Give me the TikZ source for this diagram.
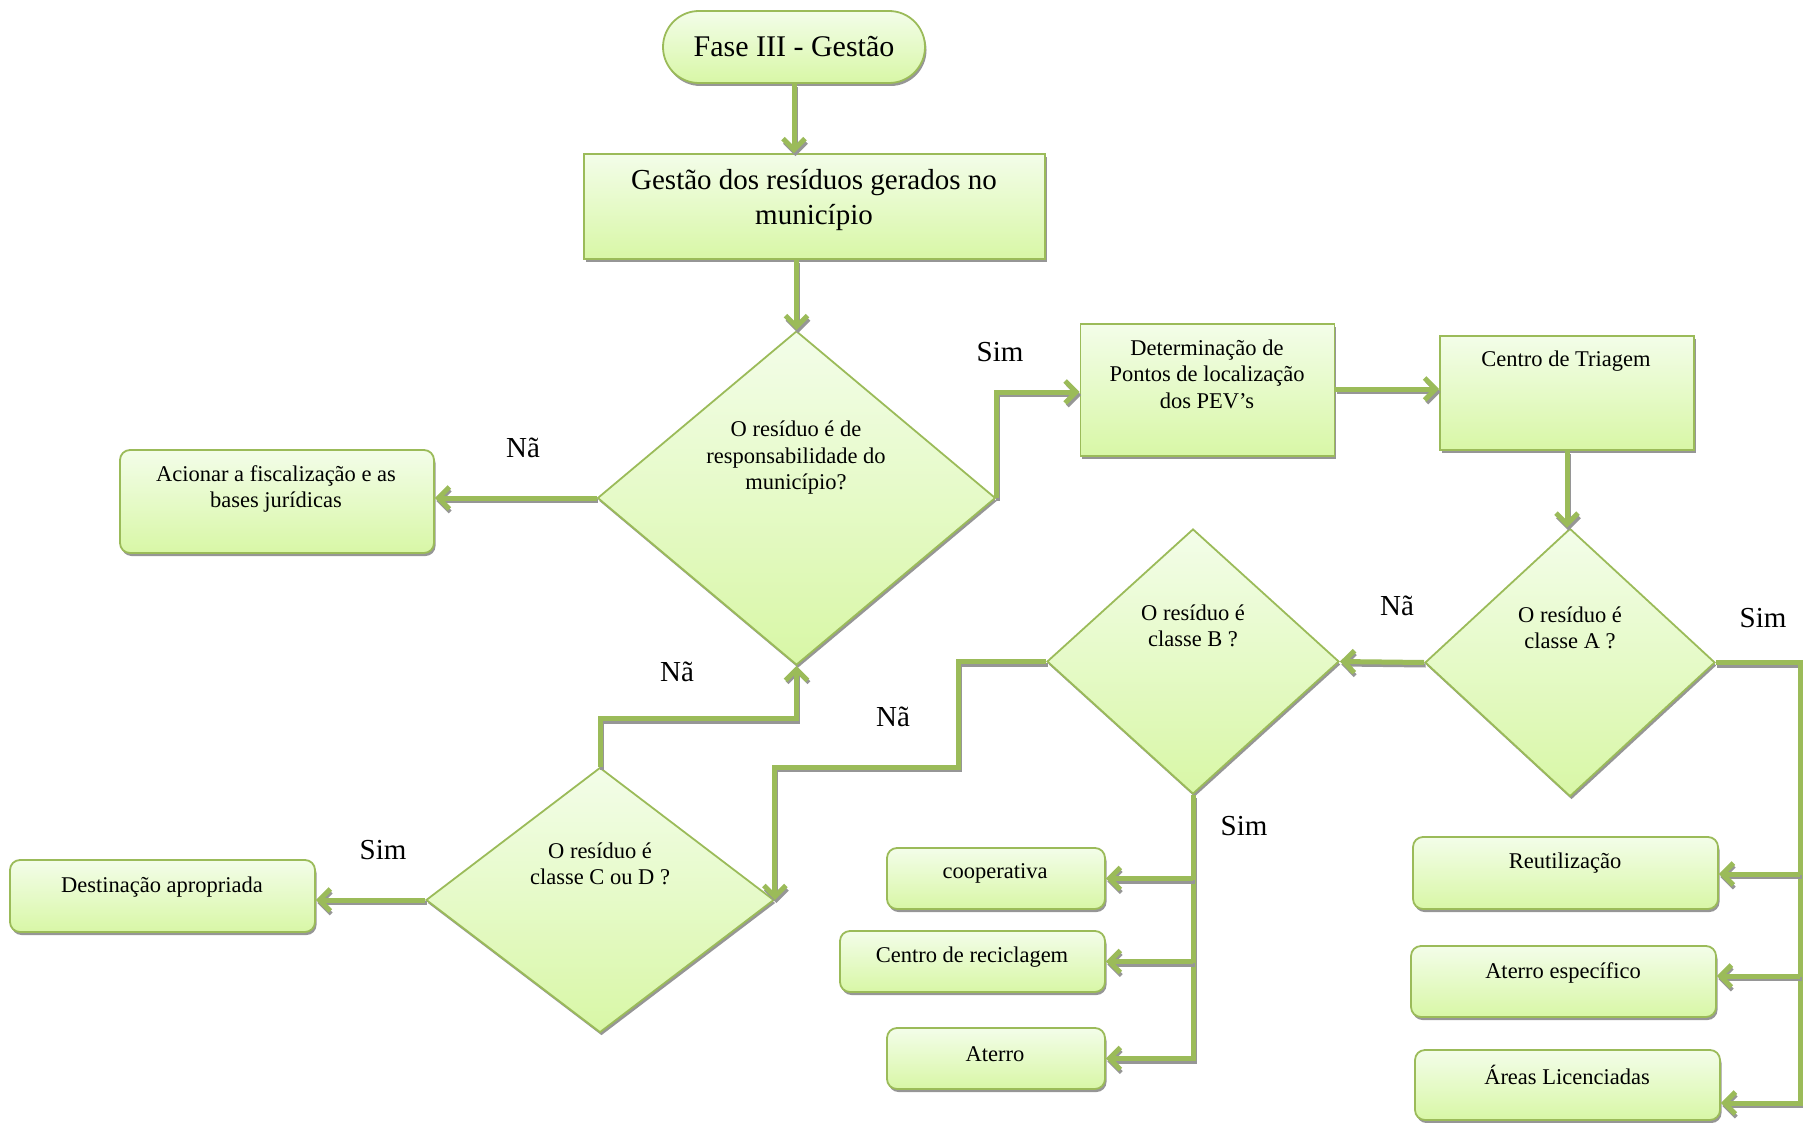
\documentclass[tikz,border=0pt]{standalone}
\usepackage{fontspec}
\setmainfont{Liberation Serif}
\usetikzlibrary{shapes.geometric,arrows.meta,shadows,calc}
\definecolor{bord}{HTML}{9BBB59}
\definecolor{ftop}{HTML}{F3FDE9}
\definecolor{fbot}{HTML}{D8F7A6}
\definecolor{shad}{HTML}{969696}
\tikzset{
  base/.style={draw=bord, line width=1.8pt, top color=ftop, bottom color=fbot, inner sep=0pt,
    drop shadow={shadow xshift=1.5pt, shadow yshift=-3pt, fill=shad, opacity=1}},
  sqbox/.style={base, rectangle},
  rbox/.style={base, rectangle, rounded corners=10pt},
  pillbox/.style={base, rectangle, rounded corners=36pt},
  dia/.style={base, diamond},
  txs/.style={font=\fontsize{22.5}{26.5}\selectfont, align=center, inner sep=0pt},
  txl/.style={font=\fontsize{29}{34.5}\selectfont, align=center, inner sep=0pt},
  lbl/.style={font=\fontsize{29}{34}\selectfont, inner sep=0pt},
  arr/.style={draw=bord, line width=5pt, -{Straight Barb[length=11pt,width=22pt]},
    preaction={draw=shad, line width=4pt, -{Straight Barb[length=11pt,width=22pt]},
      transform canvas={xshift=1.5pt,yshift=-3pt}}},
}
\begin{document}
\begin{tikzpicture}[x=1pt,y=-1pt]
\useasboundingbox (0,0) rectangle (1803,1123);

% shapes
\node[pillbox, minimum width=262pt, minimum height=72pt, font=\fontsize{30}{34}\selectfont] (pill) at (794,47) {Fase III - Gestão};
\node[sqbox, minimum width=461pt, minimum height=105pt] (gest) at (814.5,206.5) {};
\node[txl] (tgest) at (814,200) {Gestão dos resíduos gerados no\\município};

\node[dia, minimum width=398pt, minimum height=334pt] (d1) at (796.5,498) {};
\node[txs] (td1) at (796,458) {O resíduo é de\\responsabilidade do\\município?};

\node[rbox, minimum width=314pt, minimum height=103pt] (acion) at (277,501.5) {};
\node[txs] (tacion) at (276,489) {Acionar a fiscalização e as\\bases jurídicas};

\node[sqbox, minimum width=254pt, minimum height=132pt] (pev) at (1207.5,390) {};
\node[txs] (tpev) at (1207,374) {Determinação de\\Pontos de localização\\dos PEV’s};

\node[sqbox, minimum width=254pt, minimum height=114pt] (tri) at (1567,393) {};
\node[txs] (ttri) at (1566,361) {Centro de Triagem};

\node[dia, minimum width=290pt, minimum height=268pt] (dA) at (1570,662.5) {};
\node[txs] (tdA) at (1570,628) {O resíduo é\\classe A ?};

\node[dia, minimum width=292pt, minimum height=265pt] (dB) at (1193,661.5) {};
\node[txs] (tdB) at (1193,626) {O resíduo é\\classe B ?};

\node[dia, minimum width=348pt, minimum height=265pt] (dC) at (600,900) {};
\node[txs] (tdC) at (600,864) {O resíduo é\\classe C ou D ?};

\node[rbox, minimum width=305pt, minimum height=72pt] (dest) at (162.5,896) {};
\node[txs] (tdest) at (162,887) {Destinação apropriada};

\node[rbox, minimum width=218pt, minimum height=61pt] (coop) at (996,878.5) {};
\node[txs] (tcoop) at (995,873) {cooperativa};
\node[rbox, minimum width=265pt, minimum height=61pt] (recic) at (972.5,961.5) {};
\node[txs] (trecic) at (972,957) {Centro de reciclagem};
\node[rbox, minimum width=218pt, minimum height=61pt] (ater) at (996,1058.5) {};
\node[txs] (tater) at (995,1054) {Aterro};

\node[rbox, minimum width=305pt, minimum height=72pt] (reu) at (1565.5,873) {};
\node[txs] (treu) at (1565,863) {Reutilização};
\node[rbox, minimum width=305pt, minimum height=71pt] (aesp) at (1563.5,981.5) {};
\node[txs] (taesp) at (1563,973) {Aterro específico};
\node[rbox, minimum width=305pt, minimum height=70pt] (areas) at (1567.5,1085) {};
\node[txs] (tareas) at (1567,1075) {Áreas Licenciadas};

% labels
\node[lbl] (l1) at (523,448) {Nã};
\node[lbl] (l2) at (1000,352) {Sim};
\node[lbl] (l3) at (1397,606) {Nã};
\node[lbl] (l4) at (1763,618) {Sim};
\node[lbl] (l5) at (1244,826) {Sim};
\node[lbl] (l6) at (893,717) {Nã};
\node[lbl] (l7) at (677,672) {Nã};
\node[lbl] (l8) at (383,850) {Sim};

% connectors
\draw[arr] (pill.south) -- (pill.south |- gest.north);
\draw[arr] (gest.south -| d1.north) -- (d1.north);
\draw[arr] (d1.west) -- (d1.west -| acion.east);
\draw[arr] (d1.east) |- ([yshift=-2pt]pev.west);
\draw[arr] ([yshift=1pt]pev.east) -- ([yshift=1pt]pev.east -| tri.west);
\draw[arr] (tri.south) -- (tri.south |- dA.north);
\draw[arr] (dA.west) -- (dB.east);

\coordinate (ja) at (1800,662.5);
\coordinate (j1) at (1800,874);
\coordinate (j2) at (1800,976);
\coordinate (j3) at (1800,1103);
\draw[arr] (dA.east) -- (ja) -- (j3) -- (j3 -| areas.east);
\draw[arr] (j1) -- (j1 -| reu.east);
\draw[arr] (j2) -- (j2 -| aesp.east);

\draw[arr] (dB.south) |- (ater.east);
\draw[arr] (dB.south |- coop.east) -- (coop.east);
\draw[arr] (dB.south |- recic.east) -- (recic.east);

\draw[arr] (dB.west) -- ++(-88,0) -- ++(0,105.5) -| (dC.east);
\draw[arr] (dC.north) -- ++(0,-48) -| (d1.south);
\draw[arr] (dC.west) -- (dC.west -| dest.east);
\end{tikzpicture}
\end{document}
